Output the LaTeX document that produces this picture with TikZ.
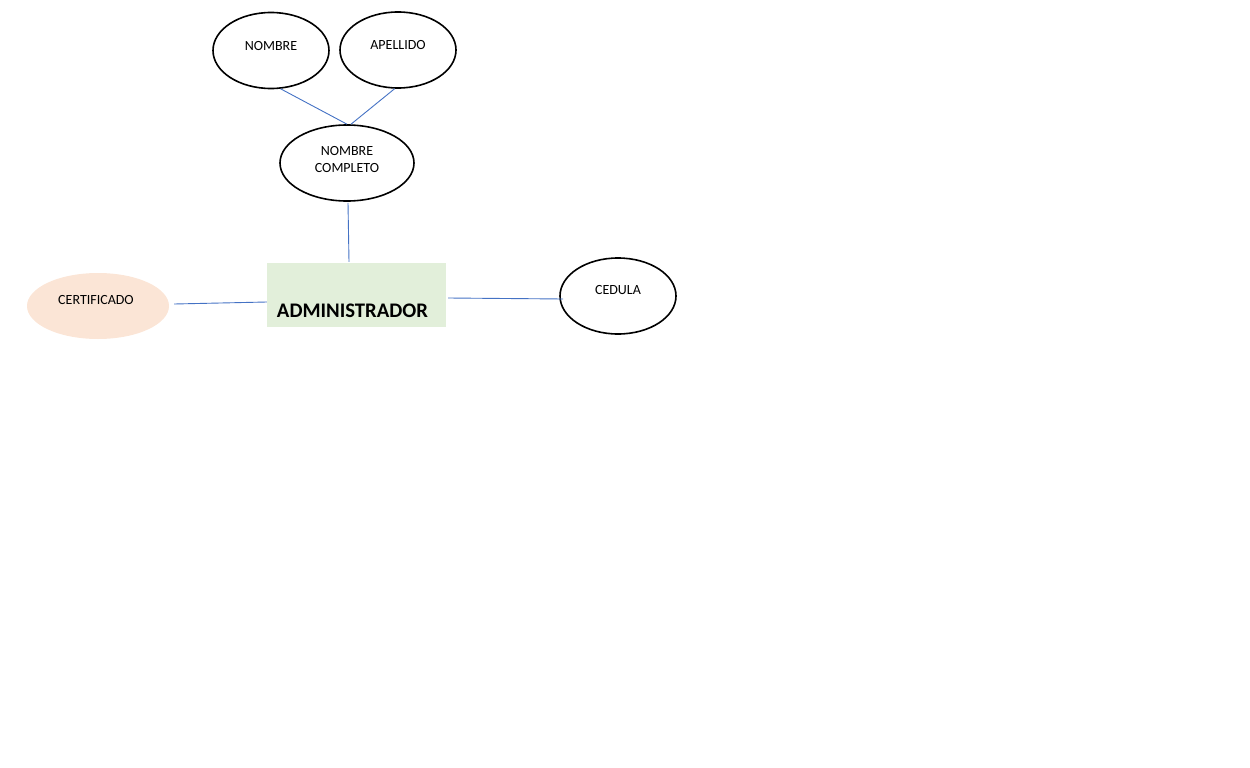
\documentclass[tikz,border=0pt]{standalone}
\usepackage{fontspec}
\setmainfont{Carlito}
\usetikzlibrary{shapes.geometric}
\definecolor{linkblue}{HTML}{4472C4}
\definecolor{entgreen}{HTML}{E2EFDA}
\definecolor{attrpeach}{HTML}{FBE5D6}
\tikzset{
  attr/.style={ellipse, draw=black, line width=1.6pt, minimum width=116pt, minimum height=76pt, inner sep=0pt},
  attrsoft/.style={ellipse, fill=attrpeach, draw=none, minimum width=142pt, minimum height=66pt, inner sep=0pt},
  entbox/.style={rectangle, fill=entgreen, draw=none, minimum width=179pt, minimum height=64pt, inner sep=0pt},
  enttext/.style={font=\fontsize{20.7}{24}\bfseries\selectfont, inner sep=0pt},
  lbl/.style={inner sep=0pt, font=\fontsize{14}{17}\selectfont, align=center},
  link/.style={draw=linkblue, line width=0.9pt}
}
\begin{document}
\begin{tikzpicture}[x=1pt,y=-1pt]
\useasboundingbox (0,0) rectangle (1250,768);
% attributes
\node[attr] (nombre) at (271,50.5) {};
\node[lbl] (nombretxt) at (271,46) {NOMBRE};
\node[attr] (apellido) at (398,50) {};
\node[lbl] (apellidotxt) at (398,45) {APELLIDO};
\node[attr, minimum width=134pt] (completo) at (347,163) {};
\node[lbl, font=\fontsize{14}{17.5}\selectfont] (completotxt) at (347,159.5) {NOMBRE\\COMPLETO};
\node[attr] (cedula) at (618,296) {};
\node[lbl] (cedulatxt) at (618,290) {CEDULA};
\node[attrsoft] (cert) at (98,306) {};
\node[lbl] (certtxt) at (96,300) {CERTIFICADO};
% entity
\node[entbox] (admin) at (356.5,295) {};
\node[enttext] (admintxt) at (352.5,311) {ADMINISTRADOR};
% connectors
\draw[link] (nombre.-76) -- (completo.north);
\draw[link] (apellido.-95) -- ([xshift=4pt]completo.north);
\draw[link] ([xshift=1pt,yshift=-1pt]completo.south) -- ([xshift=-7.5pt,yshift=1pt]admin.north);
\draw[link] ([xshift=5pt,yshift=2pt]cert.east) -- ([yshift=-7pt]admin.west);
\draw[link] ([xshift=2pt,yshift=-3pt]admin.east) -- ([xshift=4pt,yshift=-3pt]cedula.west);
\end{tikzpicture}
\end{document}
